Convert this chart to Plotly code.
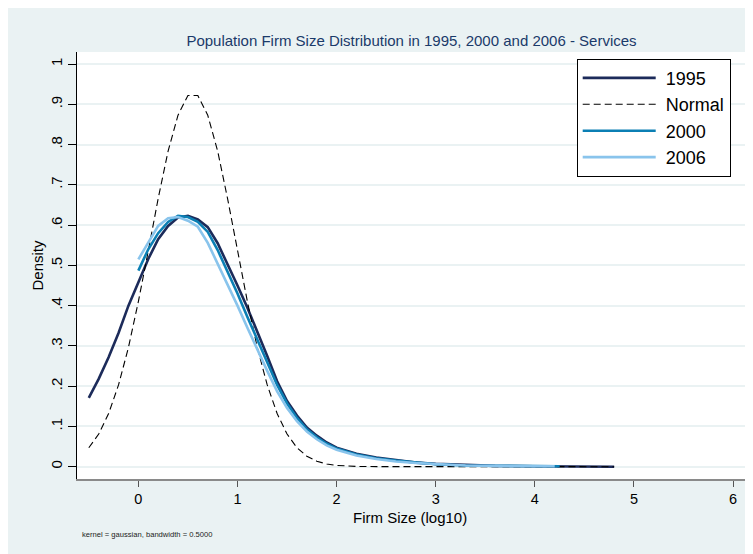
import plotly.graph_objects as go

# ---- data ----
x_1995 = [-0.5, -0.4, -0.3, -0.2, -0.1, 0.0, 0.1, 0.2, 0.3, 0.4, 0.5, 0.6, 0.7, 0.8, 0.9, 1.0,
          1.1, 1.2, 1.3, 1.4, 1.5, 1.6, 1.7, 1.8, 1.9, 2.0, 2.2, 2.4, 2.6, 2.8, 3.0, 3.3, 3.6,
          4.0, 4.4, 4.8]
y_1995 = [0.171, 0.218, 0.272, 0.332, 0.400, 0.460, 0.516, 0.565, 0.598, 0.619, 0.623, 0.614,
          0.595, 0.555, 0.504, 0.450, 0.395, 0.337, 0.275, 0.212, 0.163, 0.127, 0.097, 0.077,
          0.060, 0.047, 0.032, 0.023, 0.016, 0.010, 0.007, 0.004, 0.002, 0.001, 0.001, 0.000]

x_normal = [-0.5, -0.4, -0.3, -0.2, -0.1, 0.0, 0.1, 0.2, 0.3, 0.4, 0.5, 0.6, 0.7, 0.8, 0.9, 1.0,
            1.1, 1.2, 1.3, 1.4, 1.5, 1.6, 1.7, 1.8, 1.9, 2.0, 2.2, 2.5, 3.0, 3.5, 4.0, 4.8]
y_normal = [0.047, 0.081, 0.132, 0.203, 0.296, 0.410, 0.536, 0.666, 0.784, 0.873, 0.922, 0.922,
            0.873, 0.784, 0.666, 0.536, 0.410, 0.296, 0.203, 0.132, 0.081, 0.047, 0.026, 0.0136,
            0.0067, 0.0032, 0.0006, 0.0001, 0.0, 0.0, 0.0, 0.0]

x_2000 = [0.0, 0.1, 0.2, 0.3, 0.4, 0.5, 0.6, 0.7, 0.8, 0.9, 1.0, 1.1, 1.2, 1.3, 1.4, 1.5, 1.6,
          1.7, 1.8, 1.9, 2.0, 2.2, 2.4, 2.6, 2.8, 3.0, 3.3, 3.6, 4.0, 4.25]
y_2000 = [0.487, 0.540, 0.580, 0.608, 0.623, 0.620, 0.608, 0.583, 0.538, 0.486, 0.430, 0.372,
          0.315, 0.258, 0.203, 0.157, 0.121, 0.093, 0.073, 0.057, 0.045, 0.030, 0.021, 0.015,
          0.010, 0.006, 0.003, 0.002, 0.001, 0.001]

x_2006 = [0.0, 0.1, 0.2, 0.3, 0.4, 0.5, 0.6, 0.7, 0.8, 0.9, 1.0, 1.1, 1.2, 1.3, 1.4, 1.5, 1.6,
          1.7, 1.8, 1.9, 2.0, 2.2, 2.4, 2.6, 2.8, 3.0, 3.3, 3.6, 4.0, 4.2]
y_2006 = [0.515, 0.556, 0.598, 0.617, 0.620, 0.611, 0.596, 0.556, 0.505, 0.452, 0.400, 0.345,
          0.290, 0.238, 0.187, 0.146, 0.113, 0.087, 0.068, 0.053, 0.042, 0.028, 0.019, 0.013,
          0.009, 0.006, 0.003, 0.002, 0.001, 0.001]

y_tickvals = [0, 0.1, 0.2, 0.3, 0.4, 0.5, 0.6, 0.7, 0.8, 0.9, 1.0]
y_ticktext = ["0", ".1", ".2", ".3", ".4", ".5", ".6", ".7", ".8", ".9", "1"]
x_tickvals = [0, 1, 2, 3, 4, 5, 6]
x_ticktext = ["0", "1", "2", "3", "4", "5", "6"]

TITLE = "Population Firm Size Distribution in 1995, 2000 and 2006 - Services"
X_TITLE = "Firm Size (log10)"
NOTE = "kernel = gaussian, bandwidth = 0.5000"

BG = "#EAF2F3"
FONT = "Arial, Liberation Sans, sans-serif"
NB = "\u00a0"

W, H = 745, 546
L, R, T, B = 69, 7, 44, 75
PW, PH = W - L - R, H - T - B

fig = go.Figure()
fig.add_trace(go.Scatter(x=x_1995, y=y_1995, mode="lines", name=NB + "1995",
                         line=dict(color="#1c2b5a", width=2.6)))
fig.add_trace(go.Scatter(x=x_normal, y=y_normal, mode="lines", name=NB + "Normal",
                         line=dict(color="#000000", width=1.1, dash="7px,4px")))
fig.add_trace(go.Scatter(x=x_2000, y=y_2000, mode="lines", name=NB + "2000",
                         line=dict(color="#0b7fb4", width=2.6)))
fig.add_trace(go.Scatter(x=x_2006, y=y_2006, mode="lines", name=NB + "2006",
                         line=dict(color="#89c4ec", width=2.6)))

fig.update_layout(
    width=W, height=H,
    margin=dict(l=L, r=R, t=T, b=B),
    paper_bgcolor=BG, plot_bgcolor="white",
    font=dict(family=FONT, color="black"),
    title=dict(text=TITLE, x=0.5, xref="paper", y=1 - 33 / H, yanchor="middle",
               font=dict(size=15, color="#1a3a6a")),
    showlegend=True,
    legend=dict(x=(568.7 - L) / PW, xanchor="left", y=(T + PH - 50.7) / PH, yanchor="top",
                bgcolor="white", bordercolor="black", borderwidth=1,
                font=dict(size=18, color="black"), itemwidth=73,
                tracegroupgap=0),
    xaxis=dict(range=[-0.619, 6.13], tickvals=x_tickvals, ticktext=x_ticktext,
               showgrid=False, zeroline=False, showline=True, linecolor="#8a8a8a",
               linewidth=1.5, ticks="outside", ticklen=6, tickcolor="#555555",
               tickfont=dict(size=14.5)),
    yaxis=dict(range=[-0.0306, 1.03], tickvals=y_tickvals, ticktext=y_ticktext,
               showgrid=True, gridcolor=BG, gridwidth=1.5, zeroline=False,
               showline=True, linecolor="black", linewidth=1.2, ticks="outside",
               ticklen=8, tickcolor="black", tickangle=-90, tickfont=dict(size=15),
               title=dict(text="Density", font=dict(size=15), standoff=0)),
)

fig.add_annotation(text=X_TITLE, xref="paper", yref="paper",
                   x=(402.4 - L) / PW, y=(T + PH - 509) / PH,
                   xanchor="center", yanchor="middle", showarrow=False,
                   font=dict(size=15, color="black"))
fig.add_annotation(text=NOTE, xref="paper", yref="paper",
                   x=(72 - L) / PW, y=(T + PH - 526) / PH,
                   xanchor="left", yanchor="middle", showarrow=False,
                   font=dict(size=7.6, color="#222222"))

fig.write_html("out.html")
